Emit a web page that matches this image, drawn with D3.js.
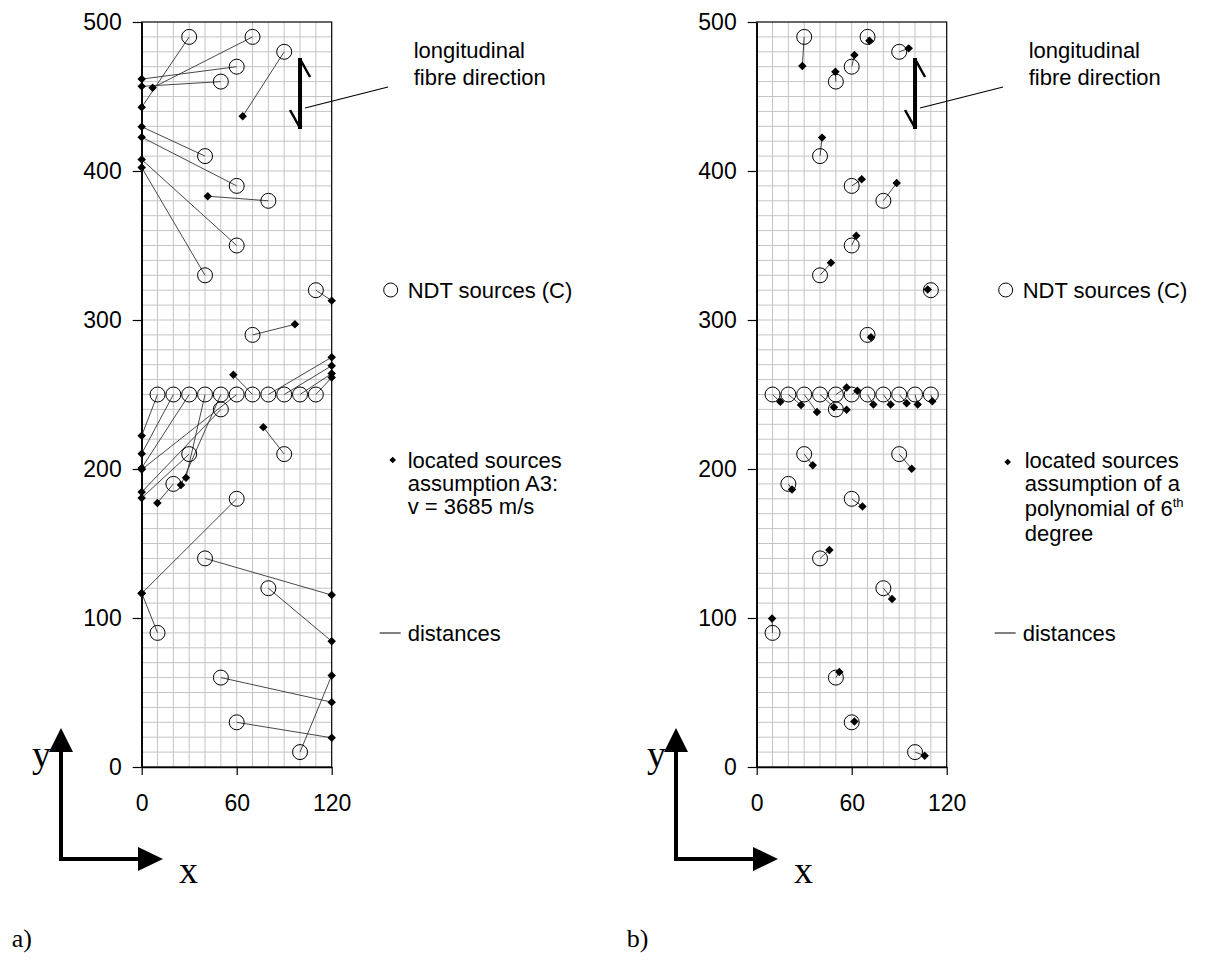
<!DOCTYPE html>
<html><head><meta charset="utf-8">
<script src="https://cdn.jsdelivr.net/npm/d3@7"></script>
<style>
html,body{margin:0;padding:0;background:#fff;}
svg{display:block;}
text{font-family:"Liberation Sans",Arial,sans-serif;fill:#000;}
.serif{font-family:"Liberation Serif","Times New Roman",serif;}
</style></head>
<body>
<svg id="chart" width="1223" height="960"></svg>
<script>
// NDT sources (C) — same in both panels
const ndtX = [30,70,90,60,50,40,60,80,60,40,110,70,10,20,30,40,50,60,70,80,90,100,110,50,30,90,20,60,40,80,10,50,60,100];
const ndtY = [490,490,480,470,460,410,390,380,350,330,320,290,250,250,250,250,250,250,250,250,250,250,250,240,210,210,190,180,140,120,90,60,30,10];
// a) located sources, assumption A3 (paired by index with NDT sources)
const locAX = [0,6.9,63.8,0,0,0,0,41.7,0,0,120,96.8,0,0,0,28,24.8,0,57.9,120,120,120,120,0,0,76.8,9.9,0,120,120,0,120,120,120];
const locAY = [442.8,455.9,436.7,461.7,456.8,429.7,422.7,383.1,407.7,402.3,313,297.1,222.3,210.3,200.7,194.2,189.3,199.6,263.2,275,269.3,264.1,261.4,184.5,180.6,228.1,177.2,116.5,115.4,84.4,116.8,43.5,19.6,61.4];
// b) located sources, polynomial of 6th degree
const locBX = [28.8,71.2,96,61.7,49.7,41.3,66.3,88.4,62.9,46.9,108,72.2,14.9,28,38.1,48.8,56.8,63.6,73.7,84.6,94.7,101.7,110.9,56.8,35.4,97.9,22.3,66.8,45.9,85.5,9.7,52.2,61.7,106.1];
const locBY = [470.4,487.4,482.3,477.8,466.6,422.4,394.4,391.9,356.5,338.4,320.5,288.4,245.1,242.9,238.2,241.5,254.7,252.5,243.3,243.3,244.2,243.3,245.5,239.7,202.5,200.2,186.2,174.9,145.6,112.8,99.6,63.8,30.6,7.6];
const xTicks = [0,60,120];
const yTicks = [0,100,200,300,400,500];
const panelLabels = ["a)","b)"];
const locatedTextA = ["located sources","assumption A3:","v = 3685 m/s"];
const locatedTextB = ["located sources","assumption of a","polynomial of 6","degree"];

const svg = d3.select("#chart");
const FS = 22;

function panel(ox, locX, locY, idx) {
  const x = d3.scaleLinear().domain([0,120]).range([ox, ox+190]);
  const y = d3.scaleLinear().domain([0,500]).range([767, 22]);
  const g = svg.append("g");
  // grid
  const gx = d3.range(10,120,10), gy = d3.range(10,500,10);
  g.selectAll(".gv").data(gx).join("line")
    .attr("x1",d=>x(d)).attr("x2",d=>x(d)).attr("y1",y(0)).attr("y2",y(500))
    .attr("stroke","#c4c4c4").attr("stroke-width",1);
  g.selectAll(".gh").data(gy).join("line")
    .attr("y1",d=>y(d)).attr("y2",d=>y(d)).attr("x1",x(0)).attr("x2",x(120))
    .attr("stroke","#c4c4c4").attr("stroke-width",1);
  // frame
  g.append("rect").attr("x",x(0)).attr("y",y(500)).attr("width",x(120)-x(0)).attr("height",y(0)-y(500))
    .attr("fill","none").attr("stroke","#000").attr("stroke-width",1.2);
  // axes
  const ay = g.append("g").attr("transform",`translate(${x(0)},0)`)
    .call(d3.axisLeft(y).tickValues(yTicks).tickSize(9).tickPadding(11).tickSizeOuter(0));
  const ax = g.append("g").attr("transform",`translate(0,${y(0)})`)
    .call(d3.axisBottom(x).tickValues(xTicks).tickSize(8).tickPadding(20).tickSizeOuter(0));
  [ax,ay].forEach(a=>{
    a.select(".domain").attr("stroke","#000").attr("stroke-width",1.5);
    a.selectAll(".tick line").attr("stroke","#000").attr("stroke-width",1.2);
    a.selectAll("text").style("font-size","23px").style("font-family",'"Liberation Sans",Arial,sans-serif').attr("fill","#000");
  });
  // distance lines
  g.selectAll(".dist").data(ndtX.map((d,i)=>i)).join("line")
    .attr("x1",i=>x(ndtX[i])).attr("y1",i=>y(ndtY[i]))
    .attr("x2",i=>x(locX[i])).attr("y2",i=>y(locY[i]))
    .attr("stroke","#333").attr("stroke-width",0.9);
  // NDT circles
  g.selectAll(".ndt").data(ndtX.map((d,i)=>i)).join("circle")
    .attr("cx",i=>x(ndtX[i])).attr("cy",i=>y(ndtY[i])).attr("r",7.5)
    .attr("fill","none").attr("stroke","#000").attr("stroke-width",1);
  // located diamonds
  const dia = d3.symbol().type(d3.symbolSquare).size(36);
  g.selectAll(".loc").data(locX.map((d,i)=>i)).join("path")
    .attr("d",dia)
    .attr("transform",i=>`translate(${x(locX[i])},${y(locY[i])}) rotate(45)`)
    .attr("fill","#000");
  // fibre direction arrow
  const ax0 = x(100);
  g.append("line").attr("x1",ax0).attr("x2",ax0).attr("y1",58).attr("y2",129)
    .attr("stroke","#000").attr("stroke-width",4);
  g.append("line").attr("x1",ax0).attr("y1",59).attr("x2",ax0+10).attr("y2",77)
    .attr("stroke","#000").attr("stroke-width",2.5);
  g.append("line").attr("x1",ax0).attr("y1",128).attr("x2",ax0-10).attr("y2",110)
    .attr("stroke","#000").attr("stroke-width",2.5);
  g.append("line").attr("x1",ax0+5).attr("y1",108).attr("x2",ax0+88).attr("y2",87)
    .attr("stroke","#000").attr("stroke-width",1.2);
  const tx = ox + 272;
  g.append("text").attr("x",tx).attr("y",58).style("font-size",FS+"px").text("longitudinal");
  g.append("text").attr("x",tx).attr("y",85).style("font-size",FS+"px").text("fibre direction");
  // legend NDT
  g.append("circle").attr("cx",ox+249).attr("cy",290).attr("r",7).attr("fill","none").attr("stroke","#000");
  g.append("text").attr("x",ox+266).attr("y",298).style("font-size",FS+"px").text("NDT sources (C)");
  // legend located
  const lt = idx===0 ? locatedTextA : locatedTextB;
  g.append("path").attr("d",d3.symbol().type(d3.symbolSquare).size(22))
    .attr("transform",`translate(${ox+251},${idx===0?460:462}) rotate(45)`).attr("fill","#000");
  lt.forEach((t,k)=>{
    const yy = 468 + k*23 + (idx===1 && k>=2 ? 2*(k-1) : 0);
    const te = g.append("text").attr("x",ox+266+(idx===1?2:0)).attr("y",yy).style("font-size",FS+"px").text(t);
    if (idx===1 && k===2) te.append("tspan").attr("dy",-9).style("font-size","13px").text("th");
  });
  // legend distances
  g.append("line").attr("x1",ox+238).attr("x2",ox+259).attr("y1",633).attr("y2",633).attr("stroke","#000").attr("stroke-width",1);
  g.append("text").attr("x",ox+266).attr("y",641).style("font-size",FS+"px").text("distances");
  // x/y orientation arrows
  const cx0 = ox - 80.7, cy0 = 859;
  g.append("line").attr("x1",cx0).attr("y1",cy0+2).attr("x2",cx0).attr("y2",750).attr("stroke","#000").attr("stroke-width",4);
  g.append("path").attr("d",`M${cx0},728 L${cx0+12},752 L${cx0-12},752 Z`).attr("fill","#000");
  g.append("line").attr("x1",cx0-2).attr("y1",cy0).attr("x2",cx0+79).attr("y2",cy0).attr("stroke","#000").attr("stroke-width",4);
  g.append("path").attr("d",`M${cx0+102},${cy0} L${cx0+77},${cy0-12} L${cx0+77},${cy0+12} Z`).attr("fill","#000");
  g.append("text").attr("class","serif").attr("x",cx0-29).attr("y",767).style("font-size","38px").text("y");
  g.append("text").attr("class","serif").attr("x",cx0+118).attr("y",883).style("font-size","38px").text("x");
  g.append("text").attr("class","serif").attr("x",ox-130).attr("y",947).style("font-size","26px").text(panelLabels[idx]);
}
panel(141.7, locAX, locAY, 0);
panel(756.7, locBX, locBY, 1);
</script>
</body></html>
